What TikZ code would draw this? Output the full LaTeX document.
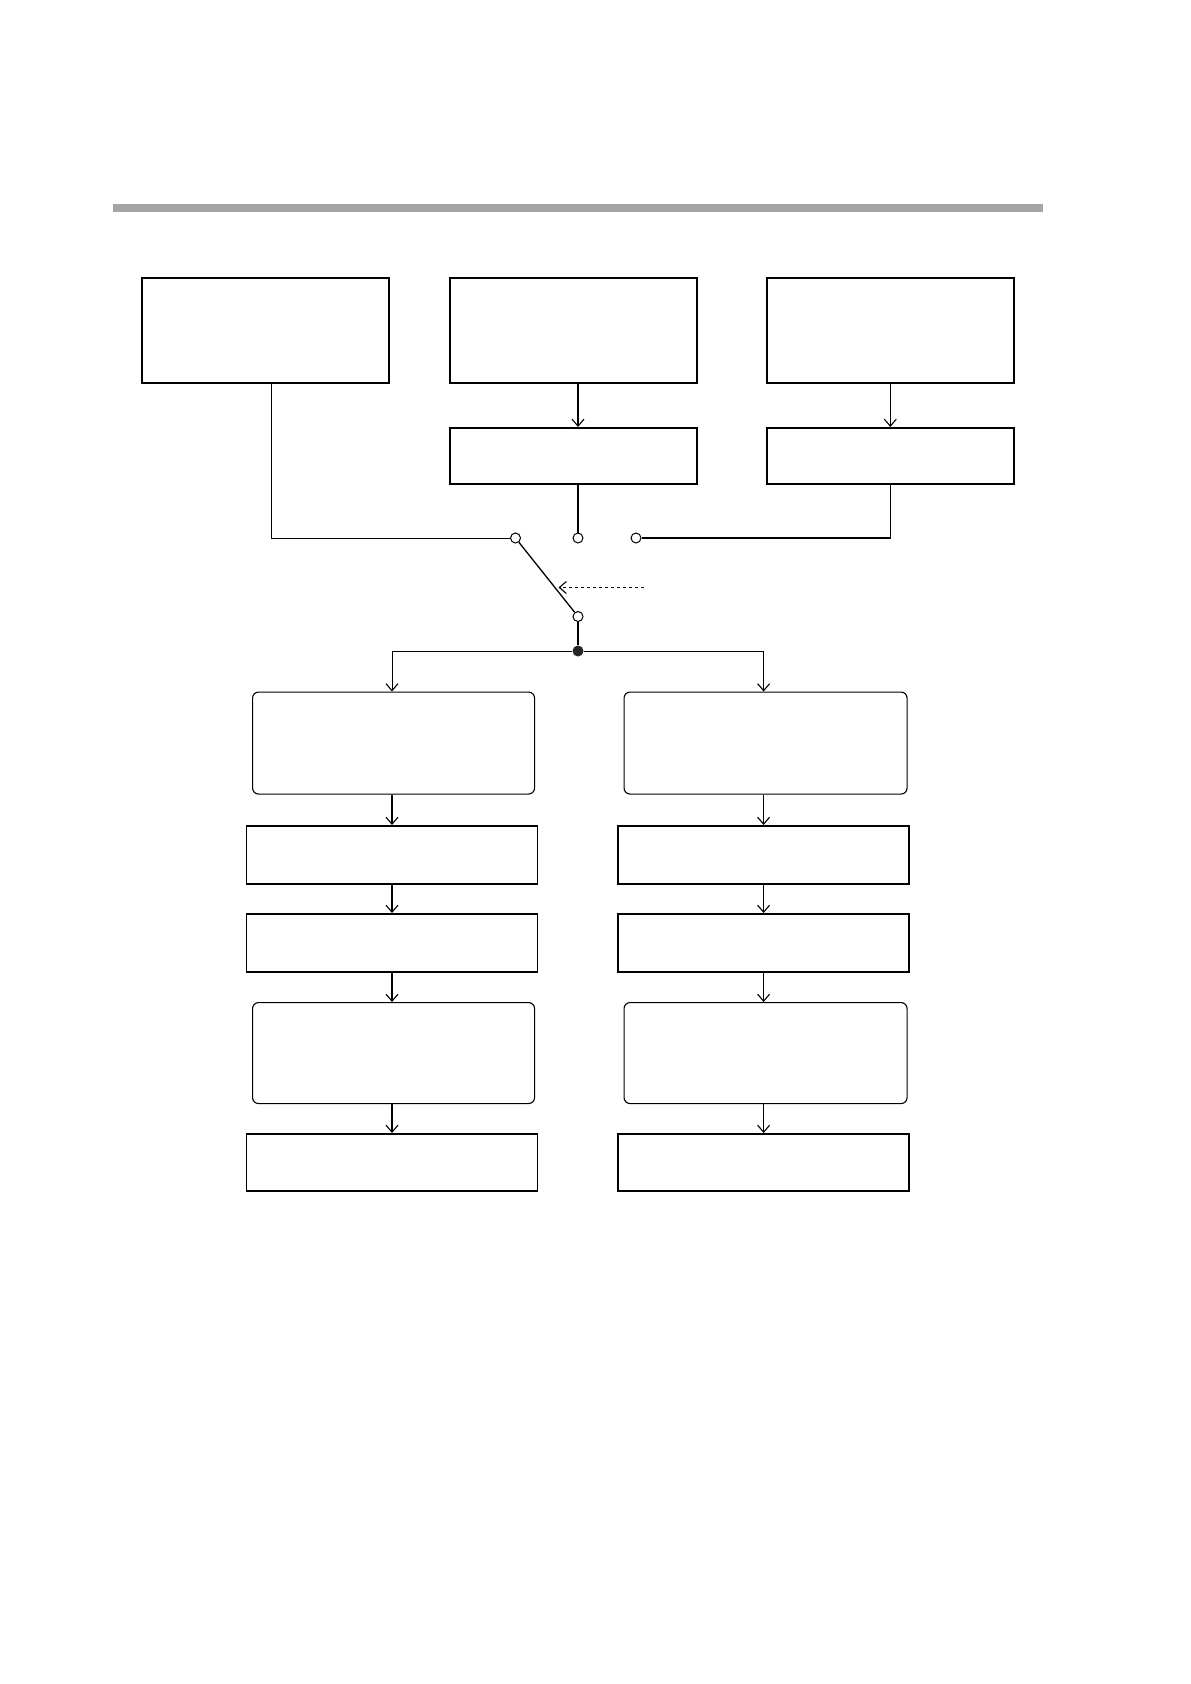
\documentclass[tikz,border=0pt]{standalone}
\usetikzlibrary{arrows.meta}
\definecolor{bargray}{HTML}{A5A5A5}
\begin{document}
\begin{tikzpicture}[x=1pt,y=-1pt,
  sqbox/.style={draw, line width=1.6pt, inner sep=0pt, anchor=north west},
  rbox/.style={draw, line width=1.1pt, rounded corners=6pt, inner sep=0pt, anchor=north west},
  mainline/.style={line width=1.3pt},
  thinline/.style={line width=0.8pt},
  arr/.style={-{Straight Barb[length=7pt,width=12pt,line width=1.1pt]}},
  term/.style={circle, draw, fill=white, line width=1pt, minimum size=10pt, inner sep=0pt},
  junction/.style={circle, fill=black!85, minimum size=11pt, inner sep=0pt}]
\useasboundingbox (0,0) rectangle (1191,1684);
\fill[bargray] (113,204) rectangle (1043,212);
% top row
\node[sqbox, minimum width=247pt, minimum height=105pt] (A) at (141,277) {};
\node[sqbox, minimum width=247pt, minimum height=105pt] (B) at (449,277) {};
\node[sqbox, minimum width=247pt, minimum height=105pt] (C) at (766,277) {};
\node[sqbox, minimum width=247pt, minimum height=56pt] (B2) at (449,427) {};
\node[sqbox, minimum width=247pt, minimum height=56pt] (C2) at (766,427) {};
% switch
\node[term] (s1) at (515.5,538) {};
\node[term] (s2) at (578,538) {};
\node[term] (s3) at (636,538) {};
\node[term] (s0) at (578,616.5) {};
\node[junction] (dot) at (578,651) {};
\coordinate (aJ) at (271.7,538);
\coordinate (dS) at (644,587.5);
\coordinate (dE) at (558.5,587.5);
\coordinate (colL) at (392,0);
\coordinate (colR) at (763.6,0);
% columns
\node[rbox, minimum width=282pt, minimum height=102pt] (L1) at (252,691.5) {};
\node[sqbox, minimum width=291pt, minimum height=58pt] (L2) at (245.5,825) {};
\node[sqbox, minimum width=291pt, minimum height=58pt] (L3) at (245.5,913) {};
\node[rbox, minimum width=282pt, minimum height=101pt] (L4) at (252,1002) {};
\node[sqbox, minimum width=291pt, minimum height=57pt] (L5) at (245.5,1133) {};
\node[rbox, minimum width=283pt, minimum height=102pt] (R1) at (623.5,691.5) {};
\node[sqbox, minimum width=291pt, minimum height=58pt] (R2) at (617,825) {};
\node[sqbox, minimum width=291pt, minimum height=58pt] (R3) at (617,913) {};
\node[rbox, minimum width=283pt, minimum height=101pt] (R4) at (623.5,1002) {};
\node[sqbox, minimum width=291pt, minimum height=57pt] (R5) at (617,1133) {};
% connectors top
\draw[mainline, arr] (B.south -| s2) -- (B2.north -| s2);
\draw[thinline, arr] (C.south) -- (C2.north);
\draw[thinline] (A.south -| aJ) -- (aJ) -- (s1);
\draw[mainline] (B2.south -| s2) -- (s2);
\draw[mainline] (s3) -| (C2.south);
\draw[mainline] (s1) -- (s0);
\draw[thinline, dashed, arr] (dS) -- (dE);
\draw[mainline] (s0) -- (dot);
\draw[thinline, arr] (dot) -| (L1.north -| colL);
\draw[thinline, arr] (dot) -| (R1.north -| colR);
% column connectors
\draw[mainline, arr] (L1.south -| colL) -- (L2.north -| colL);
\draw[mainline, arr] (L2.south -| colL) -- (L3.north -| colL);
\draw[mainline, arr] (L3.south -| colL) -- (L4.north -| colL);
\draw[mainline, arr] (L4.south -| colL) -- (L5.north -| colL);
\draw[mainline, arr] (R1.south -| colR) -- (R2.north -| colR);
\draw[mainline, arr] (R2.south -| colR) -- (R3.north -| colR);
\draw[mainline, arr] (R3.south -| colR) -- (R4.north -| colR);
\draw[mainline, arr] (R4.south -| colR) -- (R5.north -| colR);
\end{tikzpicture}
\end{document}
